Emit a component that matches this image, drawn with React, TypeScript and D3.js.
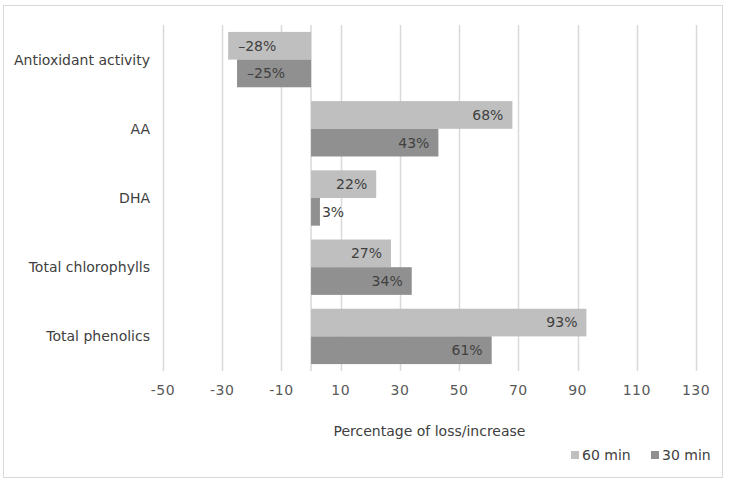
import React, { useEffect, useRef } from 'react';
import * as d3 from 'd3';

const categories = ['Antioxidant activity', 'AA', 'DHA', 'Total chlorophylls', 'Total phenolics'];
const values60 = [-28, 68, 22, 27, 93];
const values30 = [-25, 43, 3, 34, 61];
const seriesNames = ['60 min', '30 min'];
const seriesColors = ['#bfbfbf', '#909090'];
const xTicks = [-50, -30, -10, 10, 30, 50, 70, 90, 110, 130];

const W = 736;
const H = 486;
const FONT = 'DejaVu Sans, Verdana, sans-serif';

export default function App() {
  const svgRef = useRef<SVGSVGElement>(null);

  useEffect(() => {
    document.body.style.margin = '0';
    if (!svgRef.current) return;
    const svg = d3.select(svgRef.current);
    svg.selectAll('*').remove();

    const margin = { top: 25, left: 163, right: 40, bottom: 115 };
    const innerW = W - margin.left - margin.right;
    const innerH = H - margin.top - margin.bottom;

    // outer frame
    svg.append('rect')
      .attr('x', 3.5).attr('y', 5.5)
      .attr('width', 719).attr('height', 472)
      .attr('fill', '#fff')
      .attr('stroke', '#d9d9d9');

    const x = d3.scaleLinear().domain([-50, 130]).range([0, innerW]);
    const y = d3.scaleBand<string>().domain(categories).range([0, innerH]).paddingInner(0.2).paddingOuter(0.1);
    const ySub = d3.scaleBand<string>().domain(seriesNames).range([0, y.bandwidth()]);

    const g = svg.append('g').attr('transform', `translate(${margin.left},${margin.top})`);

    // gridlines
    g.selectAll('line.grid')
      .data(xTicks)
      .enter()
      .append('line')
      .attr('class', 'grid')
      .attr('x1', d => Math.round(x(d)) + 0.5)
      .attr('x2', d => Math.round(x(d)) + 0.5)
      .attr('y1', 0)
      .attr('y2', innerH)
      .attr('stroke', '#d9d9d9')
      .attr('stroke-width', 1.5);

    // zero axis line
    g.append('line')
      .attr('x1', x(0)).attr('x2', x(0))
      .attr('y1', 0).attr('y2', innerH)
      .attr('stroke', '#d9d9d9')
      .attr('stroke-width', 1.5);

    // tick labels
    g.selectAll('text.tick')
      .data(xTicks)
      .enter()
      .append('text')
      .attr('class', 'tick')
      .attr('x', d => x(d))
      .attr('y', innerH + 24)
      .attr('text-anchor', 'middle')
      .style('font-family', FONT)
      .style('font-size', '14px')
      .style('letter-spacing', '0.5px')
      .style('fill', '#595959')
      .text(d => String(d));

    // category labels
    g.selectAll('text.cat')
      .data(categories)
      .enter()
      .append('text')
      .attr('class', 'cat')
      .attr('x', -13)
      .attr('y', d => y(d)! + y.bandwidth() / 2)
      .attr('dy', '0.35em')
      .attr('text-anchor', 'end')
      .style('font-family', FONT)
      .style('font-size', '14px')
      .style('fill', '#404040')
      .text(d => d);

    const rows = categories.flatMap((c, i) => [
      { cat: c, series: seriesNames[0], value: values60[i], color: seriesColors[0] },
      { cat: c, series: seriesNames[1], value: values30[i], color: seriesColors[1] },
    ]);

    g.selectAll('rect.bar')
      .data(rows)
      .enter()
      .append('rect')
      .attr('class', 'bar')
      .attr('x', d => x(Math.min(0, d.value)))
      .attr('y', d => y(d.cat)! + ySub(d.series)!)
      .attr('width', d => Math.abs(x(d.value) - x(0)))
      .attr('height', ySub.bandwidth())
      .attr('fill', d => d.color);

    const fmt = (v: number) => (v < 0 ? '\u2013' + Math.abs(v) : String(v)) + '%';

    g.selectAll('text.lbl')
      .data(rows)
      .enter()
      .append('text')
      .attr('class', 'lbl')
      .attr('x', d => {
        const w = Math.abs(x(d.value) - x(0));
        if (w < 40) return x(d.value) + 2;
        return d.value < 0 ? x(d.value) + 10 : x(d.value) - 9;
      })
      .attr('y', d => y(d.cat)! + ySub(d.series)! + ySub.bandwidth() / 2)
      .attr('dy', '0.35em')
      .attr('text-anchor', d => {
        const w = Math.abs(x(d.value) - x(0));
        if (w < 40) return 'start';
        return d.value < 0 ? 'start' : 'end';
      })
      .style('font-family', FONT)
      .style('font-size', '14px')
      .style('fill', '#404040')
      .text(d => fmt(d.value));

    // axis title
    svg.append('text')
      .attr('x', margin.left + innerW / 2)
      .attr('y', 436)
      .attr('text-anchor', 'middle')
      .style('font-family', FONT)
      .style('font-size', '14px')
      .style('fill', '#404040')
      .text('Percentage of loss/increase');

    // legend
    const legendX = [571, 651];
    const legend = svg.selectAll('g.leg')
      .data(seriesNames)
      .enter()
      .append('g')
      .attr('class', 'leg')
      .attr('transform', (_, i) => `translate(${legendX[i]},455)`);
    legend.append('rect')
      .attr('x', 0).attr('y', -4)
      .attr('width', 8).attr('height', 8)
      .attr('fill', (_, i) => seriesColors[i]);
    legend.append('text')
      .attr('x', 11)
      .attr('dy', '0.35em')
      .style('font-family', FONT)
      .style('font-size', '14px')
      .style('fill', '#404040')
      .text(d => d);
  }, []);

  return <svg ref={svgRef} width={W} height={H} style={{ display: 'block' }} />;
}
